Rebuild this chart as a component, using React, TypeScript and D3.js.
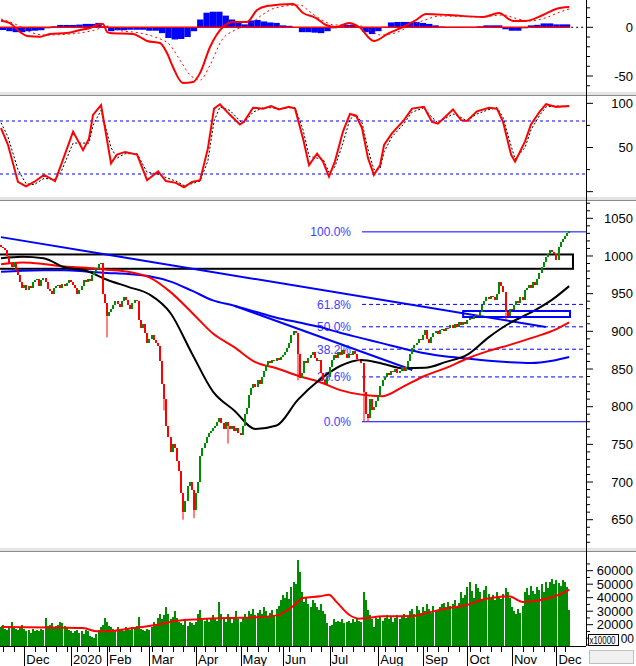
import React from "react";
import * as d3 from "d3";

// daily closes, mid Nov 2019 .. early Dec 2020 (269 sessions)
const closes = [
  1012, 1010, 1008, 1000, 990, 985, 992, 980, 975, 965, 958,
  962, 955, 960, 958, 966, 968, 970, 960, 968, 971, 966, 956, 953, 950, 957, 960, 962, 958, 963, 960, 964, 968,
  966, 962, 958, 950, 955, 960, 968, 966, 969, 967, 975, 980, 983, 990, 991, 950, 938,
  920, 926, 930, 935, 940, 936, 932, 940, 945, 942, 935, 930, 938, 942, 940, 915, 905, 910, 898, 885,
  890, 895, 888, 885, 880, 860, 830, 810, 775, 760, 740, 750, 745, 728, 715, 685, 660, 675, 695, 700, 690, 663,
  685, 700, 735, 745, 752, 760, 765, 768, 772, 775, 780, 785, 778, 770, 780, 775, 770, 775, 768, 772, 765,
  762, 775, 790, 798, 815, 825, 830, 826, 835, 830, 840, 848, 855, 860, 858, 862, 860, 865, 862, 866,
  868, 872, 878, 885, 895, 900, 898, 870, 838, 845, 860, 858, 865, 868, 872, 865, 860, 862, 845, 835, 830, 840,
  852, 862, 868, 865, 872, 868, 875, 870, 865, 870, 868, 874, 870, 863, 860, 858, 820, 790, 785, 810, 795, 800, 808,
  815, 828, 835, 840, 845, 842, 848, 846, 850, 845, 848, 852, 848, 852, 860, 870, 878, 882, 885, 890, 888,
  895, 902, 890, 885, 893, 898, 900, 896, 902, 903, 900, 905, 904, 908, 905, 910, 906, 912, 908, 912, 910,
  915, 918, 916, 920, 922, 920, 925, 935, 940, 945, 943, 947, 945, 942, 950, 965, 960, 952, 925, 920, 930,
  928, 935, 940, 938, 945, 942, 955, 958, 962, 957, 965, 962, 970, 978, 985, 992, 998, 1003, 1008, 1005, 1002,
  995, 1012, 1018, 1022, 1026, 1030, 1033,
];

// long lower shadows
const wickIdx = [50, 77, 86, 91, 107, 140, 171, 173, 238];
const wickLow = [892, 795, 650, 652, 751, 835, 780, 780, 915];

// volume, thousands (chart shows x10000)
const volumes = [
  18, 20, 17, 16, 19, 22, 18, 17, 16, 18, 20,
  17, 15, 16, 14, 17, 15, 16, 15, 17, 16, 25, 19,
  20, 21, 18, 19, 20, 22, 21, 19, 18,
  16, 15, 14, 15, 16, 14, 15, 13, 16, 15, 12, 11, 10, 13,
  16, 18, 20, 25, 22, 19,
  18, 17, 16, 18, 17, 16, 15, 18, 17, 16, 18, 17, 19, 26,
  17, 16, 15, 17, 16, 18,
  22, 20, 25, 28, 24, 27, 33, 28, 24, 26, 30, 25,
  22, 21, 20, 23, 19, 22, 21, 20, 22, 28, 31,
  25, 23, 24, 22, 25, 27, 24, 23, 37, 28,
  25, 22, 28, 24, 21, 26, 30, 24, 22, 25, 28, 26,
  30, 28, 32, 27, 29, 31, 28, 33, 30, 26, 29, 31, 27, 32,
  34, 38, 42, 40, 44, 39, 48, 52, 50, 68, 59, 44, 37,
  40, 35, 33, 38, 36,
  33, 31, 35, 30, 28, 21, 19, 20, 24, 22,
  23, 22, 24, 21, 22, 23, 21, 24, 22, 25, 23, 22, 44, 38, 31,
  27, 24, 18, 25, 24, 26, 23, 25, 27, 24, 26, 22, 25, 27, 24, 26, 28, 25, 27,
  30, 32, 28, 34, 31, 29, 33, 30, 35, 32, 29, 34, 31, 30, 33, 35,
  36, 33, 37, 34, 35, 38, 34, 36, 44, 40,
  42, 48, 52, 45, 40, 50, 47, 44, 38, 46, 49, 43,
  40, 42, 38, 44, 41, 39, 43, 47, 44, 40,
  33, 30, 28, 32, 29, 34,
  44, 47, 42, 49, 45, 43, 48, 46, 50, 44, 52, 47,
  52, 54, 50, 53, 51, 49, 53, 52, 48, 31,
];
const volMaIdx = [0, 38.7, 45.3, 50, 62.3, 73.6, 83, 93.9, 109.4, 118.9, 130.2, 137.7, 142.5, 150.5, 154.7, 158, 164.2, 168.9, 180.2, 194.3, 200.5, 211.3, 219.3, 227.4, 233.5, 239.6, 246.2, 251, 258.5, 265.1, 268];
const volMa = [18.3, 17.5, 15.1, 15.1, 17.5, 20, 22.9, 24.1, 25, 25.4, 26.9, 33.6, 39.8, 41, 42.2, 37.3, 27.4, 24.5, 26.2, 26.4, 28.6, 32.4, 34.4, 38.6, 40.3, 41, 36.8, 37.3, 39.8, 43.5, 45.9];

// moving averages read every 10 sessions
const maIdx = [0, 10, 20, 30, 40, 50, 60, 70, 80, 90, 100, 110, 120, 130, 140, 150, 160, 170, 180, 190, 200, 210, 220, 230, 240, 250, 260, 268];
const maBlack = [997, 999, 997, 985, 980.5, 968.5, 959, 949, 924, 871, 820, 795, 770.5, 775, 809, 835, 854, 862, 857, 851, 851.5, 859.5, 869, 892, 911, 925, 942, 960];
const maRed = [989, 991.4, 989.5, 986, 984.5, 981.8, 979, 971.5, 952, 925, 897, 879, 859, 851, 841, 833, 822, 816, 814, 827, 841, 851.5, 864, 874, 882, 891, 900.5, 912];
const maBlue = [979.2, 980.5, 981, 981, 979.5, 977.5, 976, 973, 966, 954, 941, 934, 926, 918, 912, 906, 898, 891, 884, 877, 871, 866.5, 864, 861, 859, 858, 861, 866];

// trend lines [idx, price]
const trendA = [[0, 1025], [257, 905.8]];
const trendC = [[110, 934], [194, 848.7]];
const blackBox = { from: -1, to: 269.8, top: 1002, bottom: 983 };
const blueBox = { from: 218, to: 268.4, top: 927, bottom: 919 };
const fibLow = 780;
const fibHigh = 1032;
const fibStartIdx = 170.3;
const fibLevels = [0, 23.6, 38.2, 50, 61.8, 100];

// MACD
const macdIdx = [0, 4.2, 9, 12.3, 18.4, 23.1, 31.1, 37.3, 42, 46.7, 48.1, 50, 51.4, 62.3, 65.6, 68.9, 75, 78.3, 81.1, 85.8, 90.6, 93.9, 98.6, 104.7, 109.4, 116, 120.8, 125.5, 137.7, 142.5, 148.6, 153.3, 158, 164.2, 168.9, 175.9, 183, 189.6, 195.8, 200.5, 211.3, 227.4, 234.9, 241.5, 247.6, 255.7, 261.8, 268];
const macdVal = [6.8, 4.4, -4.8, -8.9, -9.7, -6.9, -5.9, -2.8, -0.7, 3.4, 3.4, -4.8, -5.9, -6.9, -10, -14, -16.1, -26.4, -40.8, -57.2, -56.2, -46.9, -20.2, 0.3, 5.4, 5.4, 17.8, 21.9, 23.9, 14.7, 9.5, 2.4, 0.3, 4.4, 0.3, -14.1, -5.9, 0.3, 7.5, 13.7, 12.6, 10.6, 14.7, 6.5, 6.5, 12.6, 18.8, 20.8];
const signalIdx = [0, 6.6, 13.7, 20.8, 32.5, 44.3, 50.5, 55.2, 65.6, 72.6, 79.7, 84.4, 89.2, 93.9, 98.6, 104.2, 110.4, 117.5, 123.1, 129.2, 141, 145.8, 151.4, 157.5, 164.6, 171.7, 178.8, 185.8, 192.9, 200, 207.1, 226, 236.8, 243.9, 249.5, 258, 263.7, 268];
const signalVal = [8.5, 3.4, -4.8, -7.9, -6.9, -2.8, 1.3, -2.8, -5.9, -10, -18.2, -33.6, -49, -54.2, -38.8, -13, -2.8, 3.4, 12.6, 19.8, 22.9, 15.7, 7.5, 2.4, 2.4, 0.3, -7.9, -5.9, 1.3, 7.5, 11.6, 10.6, 12.6, 8.5, 6.5, 10.6, 15.7, 18.8];
// histogram, one value per 3 sessions
const histVal = [
  -2.8, -4, -5, -5, -4, -3.5, -3, -1, 1, 2.4, 2.4, 2.4, 2.8, 3.5, 3.5, 4.5, 1, -4, -3, -3,
  -2.5, -2.5, -2.5, -3.5, -3.5, -6, -11, -12.5, -12, -10, -4, 8, 15, 16, 16, 12, 8, 5, 3, 7,
  7.5, 6, 5, 4.5, 2, 1.5, 0, -5, -5, -5.5, -6, -4, -1, 1, 2.5, 2.5, 0.5, -5, -7, -4,
  0.5, 5, 5.5, 5.5, 5.5, 5.5, 4.5, 3.5, 2, 0.8, 0.5, 0.5, 0.5, 0.5, 0.5, 1, 2, 2, 2, -2,
  -3.5, -3.5, -1, 2, 2.5, 4, 4, 3, 3, 3,
];

// stochastic
const stochIdx = [0, 3.3, 8, 11.8, 15.6, 20.3, 25.5, 28.3, 34, 38.7, 41.5, 43.4, 47.2, 51.9, 54.7, 58.5, 64.2, 68.9, 74.1, 77.8, 82.5, 86.3, 90.1, 93.9, 97.6, 100.5, 103.3, 108, 112.7, 114.6, 118.9, 123.6, 127.4, 131.1, 135.8, 138.7, 142.5, 145.3, 149.1, 151.9, 154.7, 157.5, 161.3, 164.6, 167.5, 170.3, 173.1, 175.9, 178.8, 180.7, 184.4, 190.1, 193.9, 199.5, 203.3, 206.1, 213.2, 217, 219.8, 224.5, 230.2, 234, 236.8, 240.6, 242.5, 247.2, 250, 254.2, 257.1, 261.8, 268];
const stochK = [72, 53, 11, 6, 11, 19, 12, 30, 68, 47, 60, 87, 98, 32, 42, 45, 42, 13, 23, 12, 10, 5, 11, 13, 49, 94, 99, 87, 76, 79, 95, 94, 97, 93, 96, 94, 60, 30, 43, 34, 17, 34, 68, 88, 86, 72, 38, 19, 30, 53, 66, 81, 94, 96, 79, 77, 93, 81, 80, 91, 95, 94, 79, 42, 34, 57, 76, 91, 99, 96, 97];
const stochD = [78, 62, 25, 9, 8, 15, 14, 22, 55, 55, 55, 75, 92, 50, 38, 43, 43, 22, 20, 16, 12, 7, 9, 12, 35, 80, 96, 92, 80, 78, 90, 95, 95, 94, 95, 95, 70, 40, 38, 37, 22, 28, 55, 82, 87, 78, 48, 25, 26, 45, 62, 77, 90, 95, 84, 78, 88, 84, 80, 88, 93, 95, 84, 52, 37, 50, 70, 87, 96, 97, 96];

const monthLabels = ["Dec", "2020", "Feb", "Mar", "Apr", "May", "Jun", "Jul", "Aug", "Sep", "Oct", "Nov", "Dec"];
const monthStarts = [11, 33, 50, 70, 92, 113, 133, 155, 178, 199, 220, 241, 262];

const FONT = "'Liberation Sans', Arial, sans-serif";
const AXIS_X = 586;
const GREEN = "#008c00";
const RED = "#ff0000";
const BLUE = "#0000ff";
const FIB = "#3d3dff";

export default function App() {
  const x = d3.scaleLinear().domain([0, 268]).range([1, 1 + 268 * 2.12]);
  const macdY = d3.scaleLinear().domain([-50, 0]).range([76, 27.3]);
  const stochY = d3.scaleLinear().domain([20, 80]).range([174, 121]);
  const priceY = d3.scaleLinear().domain([650, 1050]).range([519.7, 218.3]);
  const volY = d3.scaleLinear().domain([0, 60]).range([651.7, 570.7]);

  const pts = (idx: number[], vals: number[]) => idx.map((d, i) => [d, vals[i]] as [number, number]);
  const smooth = (yS: d3.ScaleLinear<number, number>) =>
    d3.line<[number, number]>().x((d) => x(d[0])).y((d) => yS(d[1])).curve(d3.curveMonotoneX);
  const straight = (yS: d3.ScaleLinear<number, number>) =>
    d3.line<[number, number]>().x((d) => x(d[0])).y((d) => yS(d[1]));

  const separators = [92, 197, 548];
  const priceTicks = d3.range(620, 1071, 10);
  const macdTicks = d3.range(-60, 21, 10);
  const stochTicks = d3.range(0, 101, 25);
  const volTicks = d3.range(5, 66, 5);
  const weekTicks = d3.range(1, 269, 5);

  return (
    <svg width={636} height={666} style={{ position: "absolute", left: 0, top: 0, background: "#fff" }} fontFamily={FONT}>
      <defs>
        <clipPath id="cMacd"><rect x={0} y={0} width={AXIS_X} height={91} /></clipPath>
        <clipPath id="cStoch"><rect x={0} y={96} width={AXIS_X} height={100} /></clipPath>
        <clipPath id="cMain"><rect x={0} y={201} width={AXIS_X} height={346} /></clipPath>
        <clipPath id="cVol"><rect x={0} y={552} width={AXIS_X} height={94} /></clipPath>
      </defs>

      {/* MACD panel */}
      <g clipPath="url(#cMacd)">
        {histVal.map((v, g) => {
          const x0 = x(g * 3) - 1.06;
          const x1 = x(Math.min(g * 3 + 3, 269)) - 1.06;
          return (
            <rect key={g} x={x0} width={x1 - x0} y={Math.min(macdY(v), macdY(0))}
              height={Math.abs(macdY(v) - macdY(0))} fill={BLUE} />
          );
        })}
        <line x1={0} x2={x(268) + 1} y1={macdY(0)} y2={macdY(0)} stroke={RED} strokeWidth={1.5} />
        <line x1={x(268) + 2} x2={AXIS_X} y1={macdY(0)} y2={macdY(0)} stroke="#000" strokeDasharray="2 3" />
        <path d={smooth(macdY)(pts(signalIdx, signalVal)) || ""} fill="none" stroke={RED} strokeWidth={1} strokeDasharray="2 3" />
        <path d={smooth(macdY)(pts(macdIdx, macdVal)) || ""} fill="none" stroke={RED} strokeWidth={2} />
      </g>

      {/* Stochastic panel */}
      <g clipPath="url(#cStoch)">
        {[80, 20].map((v) => (
          <line key={v} x1={0} x2={AXIS_X} y1={stochY(v)} y2={stochY(v)} stroke={BLUE} strokeDasharray="3 3" />
        ))}
        <path d={straight(stochY)(pts(stochIdx, stochD)) || ""} fill="none" stroke="#000" strokeWidth={1} strokeDasharray="2 2" />
        <path d={straight(stochY)(pts(stochIdx, stochK)) || ""} fill="none" stroke={RED} strokeWidth={2} />
      </g>

      {/* Price panel */}
      <g clipPath="url(#cMain)">
        <rect x={x(blackBox.from)} y={priceY(blackBox.top)} width={x(blackBox.to) - x(blackBox.from)}
          height={priceY(blackBox.bottom) - priceY(blackBox.top)} fill="none" stroke="#000" strokeWidth={2} />
        {fibLevels.map((lv) => {
          const p = fibLow + ((fibHigh - fibLow) * lv) / 100;
          const solid = lv === 0 || lv === 100;
          return (
            <g key={lv}>
              <line x1={x(fibStartIdx)} x2={AXIS_X} y1={priceY(p)} y2={priceY(p)} stroke={BLUE}
                strokeWidth={1} strokeDasharray={solid ? undefined : "4 3"} />
              <text x={351} y={priceY(p)} dy="0.36em" textAnchor="end" fontSize={12} fill={FIB}>
                {lv.toFixed(1) + "%"}
              </text>
            </g>
          );
        })}
        <path d={straight(priceY)(trendA as [number, number][]) || ""} stroke={BLUE} strokeWidth={2} fill="none" />
        <path d={straight(priceY)(trendC as [number, number][]) || ""} stroke={BLUE} strokeWidth={2} fill="none" />
        <path d={smooth(priceY)(pts(maIdx, maBlue)) || ""} stroke={BLUE} strokeWidth={2} fill="none" />
        <path d={smooth(priceY)(pts(maIdx, maRed)) || ""} stroke={RED} strokeWidth={2} fill="none" />
        <path d={smooth(priceY)(pts(maIdx, maBlack)) || ""} stroke="#000" strokeWidth={2} fill="none" />
        <rect x={x(blueBox.from)} y={priceY(blueBox.top)} width={x(blueBox.to) - x(blueBox.from)}
          height={priceY(blueBox.bottom) - priceY(blueBox.top)} fill="none" stroke={BLUE} strokeWidth={2} />
        {wickIdx.map((i, k) => {
          const c = closes[i];
          const o = i > 0 ? closes[i - 1] : c;
          return (
            <line key={"w" + k} x1={Math.round(x(i))} x2={Math.round(x(i))} y1={priceY(Math.min(o, c))} y2={priceY(wickLow[k])}
              stroke={c >= o ? GREEN : RED} strokeWidth={1} />
          );
        })}
        {closes.map((c, i) => {
          const o = i > 0 ? closes[i - 1] : c + 3;
          const top = priceY(Math.max(o, c));
          const h = Math.max(1, priceY(Math.min(o, c)) - top);
          return (
            <rect key={i} x={Math.round(x(i)) - 1} width={2} y={top} height={h}
              fill={c >= o ? GREEN : RED} shapeRendering="crispEdges" />
          );
        })}
      </g>

      {/* Volume panel */}
      <g clipPath="url(#cVol)">
        {volumes.map((v, i) => (
          <rect key={i} x={Math.round(x(i)) - 1} width={2} y={volY(v)} height={646 - volY(v)}
            fill={GREEN} shapeRendering="crispEdges" />
        ))}
        <path d={smooth(volY)(pts(volMaIdx, volMa)) || ""} stroke={RED} strokeWidth={2} fill="none" />
      </g>

      {/* panel separators */}
      {separators.map((s) => (
        <g key={s}>
          <rect x={0} y={s} width={636} height={3} fill="#e4e4e4" />
          <line x1={0} x2={636} y1={s + 3.5} y2={s + 3.5} stroke="#8a8a8a" />
        </g>
      ))}

      {/* right axis */}
      <line x1={AXIS_X + 0.5} x2={AXIS_X + 0.5} y1={0} y2={646} stroke="#000" />
      {macdTicks.map((t) => (
        <line key={"m" + t} x1={AXIS_X} x2={AXIS_X + (t % 50 === 0 ? 7 : 4)} y1={macdY(t)} y2={macdY(t)} stroke="#000" />
      ))}
      {[0, -50].map((t) => (
        <text key={"ml" + t} x={633} y={macdY(t)} dy="0.36em" textAnchor="end" fontSize={13}>{t}</text>
      ))}
      {stochTicks.map((t) => (
        <line key={"s" + t} x1={AXIS_X} x2={AXIS_X + (t % 50 === 0 ? 7 : 4)} y1={stochY(t)} y2={stochY(t)} stroke="#000" />
      ))}
      {[100, 50].map((t) => (
        <text key={"sl" + t} x={633} y={stochY(t)} dy="0.36em" textAnchor="end" fontSize={13}>{t}</text>
      ))}
      {priceTicks.map((t) => (
        <line key={"p" + t} x1={AXIS_X} x2={AXIS_X + (t % 50 === 0 ? 7 : 4)} y1={priceY(t)} y2={priceY(t)} stroke="#000" />
      ))}
      {priceTicks.filter((t) => t % 50 === 0 && t >= 650 && t <= 1050).map((t) => (
        <text key={"pl" + t} x={633} y={priceY(t)} dy="0.36em" textAnchor="end" fontSize={13}>{t}</text>
      ))}
      {volTicks.map((t) => (
        <line key={"v" + t} x1={AXIS_X} x2={AXIS_X + (t % 10 === 0 ? 7 : 4)} y1={volY(t)} y2={volY(t)} stroke="#000" />
      ))}
      {volTicks.filter((t) => t % 10 === 0 && t <= 60 && t > 10).map((t) => (
        <text key={"vl" + t} x={633} y={volY(t)} dy="0.36em" textAnchor="end" fontSize={13}>{t * 1000}</text>
      ))}
      {/* lowest volume label sits behind the multiplier box; only its tail shows */}
      <text x={634} y={volY(10)} dy="0.36em" textAnchor="end" fontSize={12}>00</text>
      <rect x={588.5} y={634.5} width={30} height={11} fill="#fff" stroke="#000" />
      <text x={589.5} y={643.5} textLength={26} lengthAdjust="spacingAndGlyphs" fontSize={10}>x10000</text>
      <rect x={589.5} y={650.5} width={44} height={13} fill="#f0f0f0" stroke="#c0c0c0" />

      {/* time axis */}
      <line x1={0} x2={AXIS_X} y1={646.5} y2={646.5} stroke="#000" />
      {weekTicks.map((i) => (
        <line key={"wk" + i} x1={Math.round(x(i)) + 0.5} x2={Math.round(x(i)) + 0.5} y1={646} y2={652} stroke="#000" />
      ))}
      {monthStarts.map((i, k) => (
        <g key={"mo" + k}>
          <line x1={Math.round(x(i)) + 0.5} x2={Math.round(x(i)) + 0.5} y1={646} y2={666} stroke="#000" />
          <text x={x(i) + 2} y={664} fontSize={13}>{monthLabels[k]}</text>
        </g>
      ))}
    </svg>
  );
}
